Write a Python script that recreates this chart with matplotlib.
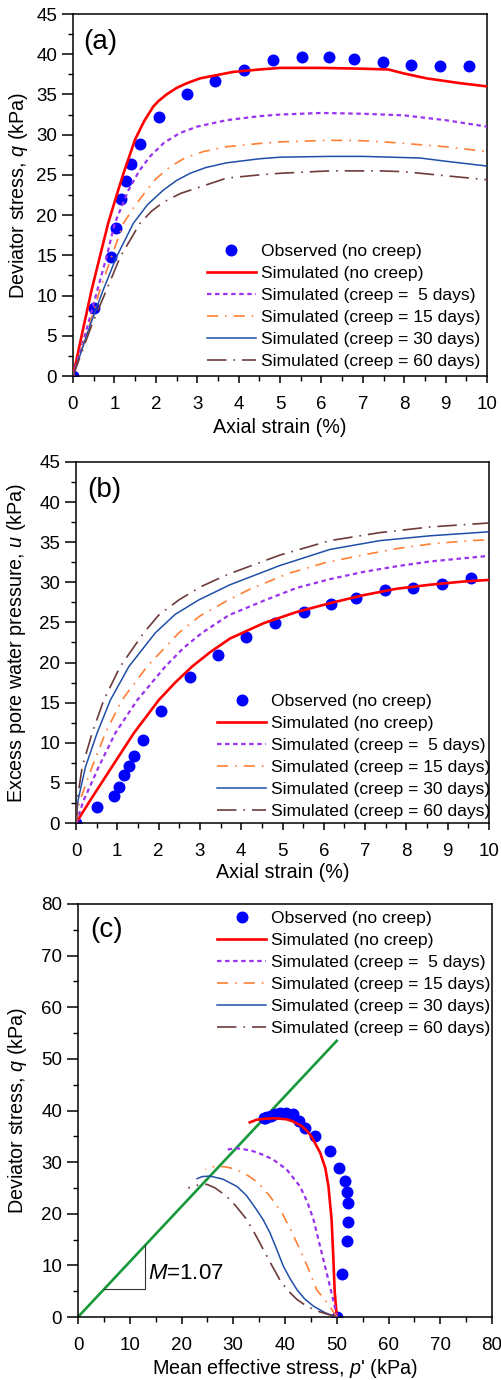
import matplotlib
matplotlib.use('Agg')
import matplotlib.pyplot as plt
from matplotlib.ticker import MultipleLocator

plt.rcParams['font.family'] = ['Liberation Sans', 'DejaVu Sans']
plt.rcParams['mathtext.fontset'] = 'custom'
plt.rcParams['mathtext.rm'] = 'Liberation Sans'
plt.rcParams['mathtext.it'] = 'Liberation Sans:italic'
plt.rcParams['lines.scale_dashes'] = False
plt.rcParams['lines.solid_joinstyle'] = 'round'
plt.rcParams['lines.dash_joinstyle'] = 'round'

# ---------------- data ----------------
# observed (no creep)
strain_obs = [0, 0.51, 0.92, 1.03, 1.17, 1.28, 1.40, 1.62, 2.07, 2.75, 3.43, 4.12,
              4.82, 5.53, 6.18, 6.79, 7.49, 8.17, 8.86, 9.57]
q_obs = [0, 8.4, 14.8, 18.4, 22.0, 24.3, 26.3, 28.9, 32.2, 35.0, 36.7, 38.0,
         39.3, 39.6, 39.6, 39.4, 39.0, 38.7, 38.5, 38.5]
u_obs = [0, 2.0, 3.4, 4.5, 6.0, 7.1, 8.3, 10.3, 14.0, 18.2, 21.0, 23.2,
         24.9, 26.3, 27.3, 28.1, 29.0, 29.3, 29.8, 30.6]
p_obs = [50.0, 51.0, 51.9, 52.2, 52.2, 51.9, 51.6, 50.5, 48.6, 45.8, 43.9, 42.7,
         41.5, 40.2, 39.0, 38.0, 37.2, 36.6, 36.2, 36.0]

# (a) deviator stress vs axial strain, simulated
a_red_x = [0, 0.25, 0.45, 0.85, 1.05, 1.22, 1.5, 1.72, 1.94, 2.07, 2.26, 2.5, 2.75, 3.07,
           3.47, 3.87, 4.5, 5.0, 6.0, 7.0, 7.62, 8.0, 8.54, 9.35, 10.0]
a_red_y = [0, 6.0, 10.7, 19.0, 22.4, 25.2, 29.4, 31.7, 33.5, 34.2, 35.0, 35.8, 36.4, 37.0,
           37.4, 37.8, 38.1, 38.3, 38.3, 38.2, 38.1, 37.6, 37.0, 36.4, 36.0]
a_5d_x = [0, 0.37, 0.59, 0.81, 1.01, 1.34, 1.6, 1.86, 2.2, 2.58, 3.0, 3.71, 4.5, 5.0,
          6.0, 7.0, 8.0, 8.5, 9.0, 10.0]
a_5d_y = [0, 6.55, 10.7, 14.8, 19.0, 23.1, 25.5, 27.3, 29.0, 30.2, 31.0, 31.8, 32.3, 32.5,
          32.7, 32.6, 32.4, 32.1, 31.8, 31.0]
a_15d_x = [0, 0.41, 0.65, 0.93, 1.22, 1.5, 1.78, 2.0, 2.34, 2.7, 3.15, 3.71, 4.5, 5.0,
           6.2, 7.0, 7.8, 8.5, 9.0, 9.67, 10.0]
a_15d_y = [0, 6.55, 10.7, 14.8, 19.0, 21.2, 23.1, 24.5, 26.0, 27.1, 27.9, 28.5, 28.9, 29.1,
           29.3, 29.25, 29.0, 28.7, 28.5, 28.1, 27.9]
a_30d_x = [0, 0.43, 0.73, 1.05, 1.46, 1.8, 2.18, 2.5, 2.83, 3.2, 3.71, 4.5, 5.0, 6.2,
           7.0, 8.38, 9.0, 10.0]
a_30d_y = [0, 6.55, 10.7, 14.8, 19.0, 21.3, 23.1, 24.3, 25.2, 25.9, 26.5, 27.0, 27.2, 27.3,
           27.3, 27.1, 26.7, 26.1]
a_60d_x = [0, 0.47, 0.81, 1.14, 1.62, 1.9, 2.18, 2.6, 3.07, 3.71, 4.5, 5.0, 6.2, 7.4,
           8.0, 8.78, 10.0]
a_60d_y = [0, 6.55, 10.7, 14.8, 19.0, 20.5, 21.6, 22.7, 23.5, 24.6, 25.0, 25.2, 25.5, 25.5,
           25.4, 25.0, 24.4]

# (b) excess pore water pressure vs axial strain, simulated
b_red_x = [0, 0.35, 0.87, 1.40, 2.0, 2.4, 2.81, 3.25, 3.73, 4.54, 5.34, 6.15, 6.96, 7.76,
           8.57, 9.38, 10.0]
b_red_y = [0, 2.87, 7.0, 11.2, 15.3, 17.5, 19.5, 21.3, 23.0, 24.9, 26.3, 27.4, 28.4, 29.2,
           29.7, 30.1, 30.3]
b_5d_x = [0, 0.19, 0.55, 0.95, 1.48, 2.16, 2.6, 3.05, 3.70, 4.54, 5.34, 6.15, 6.96, 7.76,
          8.57, 9.38, 10.0]
b_5d_y = [0, 2.87, 7.0, 11.2, 15.3, 19.5, 21.8, 23.7, 25.9, 27.7, 29.3, 30.4, 31.3, 32.0,
          32.6, 33.0, 33.3]
b_15d_x = [0, 0.10, 0.39, 0.71, 1.11, 1.72, 2.49, 3.0, 3.62, 4.19, 5.14, 6.0, 6.84, 7.76,
           8.61, 9.54, 10.0]
b_15d_y = [0, 2.87, 7.0, 11.2, 15.3, 19.5, 23.7, 25.8, 27.6, 29.1, 31.1, 32.4, 33.3, 34.2,
           34.8, 35.2, 35.3]
b_30d_x = [0, 0.05, 0.23, 0.51, 0.83, 1.28, 1.92, 2.4, 2.97, 3.73, 4.94, 6.15, 7.36, 8.57, 10.0]
b_30d_y = [0, 2.87, 7.0, 11.2, 15.3, 19.5, 23.7, 26.0, 27.8, 29.7, 32.1, 34.1, 35.2, 35.8, 36.3]
b_60d_x = [0, 0.03, 0.15, 0.39, 0.67, 1.07, 1.64, 2.0, 2.49, 3.0, 3.68, 4.94, 6.15, 7.36,
           8.57, 10.0]
b_60d_y = [0, 2.87, 7.0, 11.2, 15.3, 19.5, 23.7, 25.9, 27.8, 29.4, 31.0, 33.4, 35.2, 36.2,
           36.9, 37.4]

# (c) stress paths, simulated
c_red_x = [50.0, 49.6, 49.3, 49.0, 48.4, 47.8, 46.8, 45.1, 44.1, 43.2, 41.5, 40.3, 38.0,
           36.0, 34.5, 33.2]
c_red_y = [0, 5.0, 12.4, 18.9, 25.3, 28.8, 31.8, 35.0, 36.2, 37.0, 37.9, 38.3, 38.5,
           38.4, 38.2, 37.7]
c_5d_x = [50.0, 49.5, 48.7, 47.1, 45.5, 44.3, 42.9, 40.3, 37.7, 35.8, 33.9, 32.0, 30.5, 28.7]
c_5d_y = [0, 2.5, 5.9, 12.4, 18.9, 22.3, 25.3, 28.6, 30.5, 31.4, 32.1, 32.5, 32.7, 32.4]
c_15d_x = [50.0, 49.3, 47.8, 46.1, 44.5, 42.6, 41.0, 39.4, 37.0, 34.8, 33.0, 31.3, 29.8,
           28.4, 26.5, 24.6]
c_15d_y = [0, 1.1, 3.2, 5.3, 9.4, 13.7, 17.1, 20.2, 23.5, 26.0, 27.3, 28.2, 28.8,
           29.1, 29.2, 28.6]
c_30d_x = [50.0, 47.8, 45.5, 43.8, 42.3, 41.0, 39.7, 38.4, 37.1, 35.8, 34.5, 32.5, 30.7,
           28.0, 25.5, 24.0, 23.0]
c_30d_y = [0, 0.8, 2.1, 3.5, 5.3, 7.4, 9.8, 13.1, 16.3, 18.8, 20.8, 23.6, 25.3,
           26.7, 27.3, 27.2, 26.8]
c_60d_x = [50.0, 48.0, 46.1, 44.2, 42.3, 40.6, 39.0, 37.4, 35.8, 34.2, 32.6, 30.5, 28.7,
           26.5, 24.9, 23.0, 21.3]
c_60d_y = [0, 0.6, 1.2, 2.1, 3.4, 5.1, 7.2, 10.1, 13.1, 16.1, 18.9, 21.5, 23.4,
           25.0, 25.7, 25.5, 25.0]

# critical state line and slope triangle
csl_p = [0, 50]
csl_q = [0, 53.5]
tri_p = [5, 13, 13]
tri_q = [5.35, 5.35, 13.91]

labels = ['Observed (no creep)', 'Simulated (no creep)', 'Simulated (creep =  5 days)',
          'Simulated (creep = 15 days)', 'Simulated (creep = 30 days)',
          'Simulated (creep = 60 days)']

# ---------------- styles ----------------
obs_style = dict(ls='none', marker='o', ms=7.6, color='#0000FF', mec='#0000FF')
sim_styles = [
    dict(color='#FF0000', lw=1.9, ls='-'),
    dict(color='#9933EE', lw=1.6, dashes=(3.2, 2.6)),
    dict(color='#FF8033', lw=1.2, dashes=(8, 5, 1.2, 5)),
    dict(color='#1F4FA8', lw=1.1, ls='-'),
    dict(color='#6E3B3B', lw=1.2, dashes=(14, 5, 1.2, 5)),
]

fig = plt.figure(figsize=(5.01, 13.8), dpi=100)
W, H = 501.0, 1380.0

def make_ax(l, r, t, b):
    return fig.add_axes([l / W, 1 - b / H, (r - l) / W, (b - t) / H])

def style_ax(ax):
    for s in ax.spines.values():
        s.set_linewidth(1.1)
    ax.tick_params(axis='x', which='major', direction='out', length=5, width=1.1,
                   pad=9.5, labelsize=13.5, top=False)
    ax.tick_params(axis='x', which='minor', direction='out', length=3.6, width=1.0, top=False)
    ax.tick_params(axis='y', which='major', direction='out', length=8, width=1.1,
                   pad=3.5, labelsize=13.5, right=False)
    ax.tick_params(axis='y', which='minor', direction='out', length=3.6, width=1.0, right=False)

def draw(ax, ox, oy, series):
    ax.plot(ox, oy, label=labels[0], zorder=2, **obs_style)
    for (sx, sy), st, lab in zip(series, sim_styles, labels[1:]):
        ax.plot(sx, sy, label=lab, zorder=3, **st)

leg_kw = dict(loc='upper left', frameon=False, fontsize=12.6, handlelength=2.8,
              handletextpad=0.3, labelspacing=0.38, borderpad=0, borderaxespad=0)

# ---------- (a) ----------
ax = make_ax(73, 487, 14, 376)
draw(ax, strain_obs, q_obs, [(a_red_x, a_red_y), (a_5d_x, a_5d_y), (a_15d_x, a_15d_y),
                             (a_30d_x, a_30d_y), (a_60d_x, a_60d_y)])
ax.set_xlim(0, 10); ax.set_ylim(0, 45)
ax.xaxis.set_major_locator(MultipleLocator(1)); ax.xaxis.set_minor_locator(MultipleLocator(0.5))
ax.yaxis.set_major_locator(MultipleLocator(5)); ax.yaxis.set_minor_locator(MultipleLocator(2.5))
style_ax(ax)
ax.set_xlabel('Axial strain (%)', fontsize=14.2, va='center')
ax.xaxis.set_label_coords(0.5, -51 / 362)
ax.set_ylabel('Deviator stress, $q$ (kPa)', fontsize=14.2, va='center')
ax.yaxis.set_label_coords((18 - 73) / 414, 0.5)
ax.text(0.024, 0.923, '(a)', transform=ax.transAxes, fontsize=20, va='center', ha='left')
ax.legend(bbox_to_anchor=((207 - 73) / 414, (376 - 244) / 362), **leg_kw)

# ---------- (b) ----------
ax = make_ax(76, 489, 462, 823)
draw(ax, strain_obs, u_obs, [(b_red_x, b_red_y), (b_5d_x, b_5d_y), (b_15d_x, b_15d_y),
                             (b_30d_x, b_30d_y), (b_60d_x, b_60d_y)])
ax.set_xlim(0, 10); ax.set_ylim(0, 45)
ax.xaxis.set_major_locator(MultipleLocator(1)); ax.xaxis.set_minor_locator(MultipleLocator(0.5))
ax.yaxis.set_major_locator(MultipleLocator(5)); ax.yaxis.set_minor_locator(MultipleLocator(2.5))
style_ax(ax)
ax.set_xlabel('Axial strain (%)', fontsize=14.2, va='center')
ax.xaxis.set_label_coords(0.5, -50 / 361)
ax.set_ylabel('Excess pore water pressure, $u$ (kPa)', fontsize=14.2, va='center')
ax.yaxis.set_label_coords((17 - 76) / 413, 0.5)
ax.text(0.027, 0.922, '(b)', transform=ax.transAxes, fontsize=20, va='center', ha='left')
ax.legend(bbox_to_anchor=((217 - 76) / 413, (823 - 694) / 361), **leg_kw)

# ---------- (c) ----------
ax = make_ax(78, 492, 904, 1317)
ax.plot(csl_p, csl_q, color='#17993A', lw=1.9, zorder=1)
ax.plot(tri_p, tri_q, color='#333333', lw=0.8, zorder=1)
ax.text(13.6, 8.5, '$M$=1.07', fontsize=16, va='center', ha='left')
draw(ax, p_obs, q_obs, [(c_red_x, c_red_y), (c_5d_x, c_5d_y), (c_15d_x, c_15d_y),
                        (c_30d_x, c_30d_y), (c_60d_x, c_60d_y)])
ax.set_xlim(0, 80); ax.set_ylim(0, 80)
ax.xaxis.set_major_locator(MultipleLocator(10)); ax.xaxis.set_minor_locator(MultipleLocator(5))
ax.yaxis.set_major_locator(MultipleLocator(10)); ax.yaxis.set_minor_locator(MultipleLocator(5))
style_ax(ax)
ax.set_xlabel("Mean effective stress, $p$' (kPa)", fontsize=14.2, va='center')
ax.xaxis.set_label_coords(0.5, -51 / 413)
ax.set_ylabel('Deviator stress, $q$ (kPa)', fontsize=14.2, va='center')
ax.yaxis.set_label_coords((18 - 78) / 414, 0.5)
ax.text(0.029, 0.937, '(c)', transform=ax.transAxes, fontsize=20, va='center', ha='left')
ax.legend(bbox_to_anchor=((217 - 78) / 414, (1317 - 911) / 413), **leg_kw)

fig.savefig('out.png', dpi=100)
